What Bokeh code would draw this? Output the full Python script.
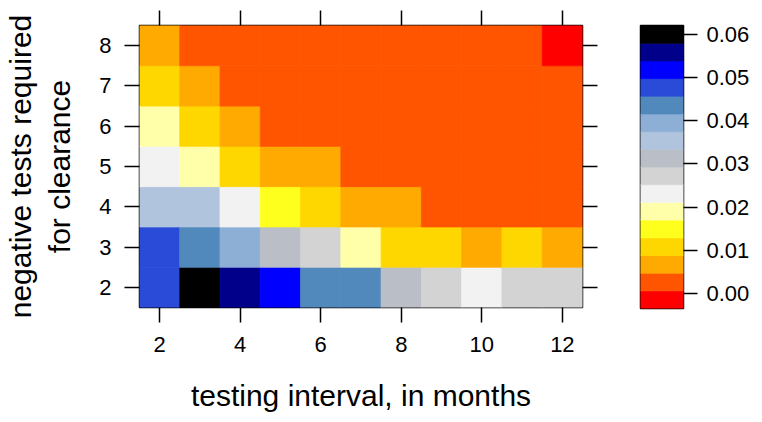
from bokeh.plotting import figure
from bokeh.layouts import row
from bokeh.models import (ColumnDataSource, LinearColorMapper, Range1d, FixedTicker,
                          LinearAxis, CustomJSTickFormatter)
from bokeh.embed import file_html
from bokeh.resources import INLINE

# ---------------- data ----------------
intervals = [2, 3, 4, 5, 6, 7, 8, 9, 10, 11, 12]          # testing interval, months
neg_tests = [2, 3, 4, 5, 6, 7, 8]                           # negative tests required

row_2 = [0.0480, 0.0585, 0.0560, 0.0520, 0.0440, 0.0430, 0.0310, 0.0280, 0.0230, 0.0270, 0.0275]
row_3 = [0.0475, 0.0440, 0.0400, 0.0315, 0.0275, 0.0190, 0.0115, 0.0105, 0.0080, 0.0100, 0.0075]
row_4 = [0.0360, 0.0355, 0.0230, 0.0150, 0.0110, 0.0075, 0.0060, 0.0040, 0.0035, 0.0030, 0.0025]
row_5 = [0.0230, 0.0190, 0.0110, 0.0070, 0.0055, 0.0040, 0.0030, 0.0025, 0.0020, 0.0015, 0.0012]
row_6 = [0.0190, 0.0110, 0.0065, 0.0040, 0.0030, 0.0022, 0.0018, 0.0014, 0.0012, 0.0010, 0.0009]
row_7 = [0.0110, 0.0065, 0.0035, 0.0025, 0.0018, 0.0014, 0.0012, 0.0010, 0.0009, 0.0009, 0.0008]
row_8 = [0.0070, 0.0040, 0.0022, 0.0016, 0.0013, 0.0011, 0.0010, 0.0009, 0.0009, 0.0008, 0.0003]
rows = [row_2, row_3, row_4, row_5, row_6, row_7, row_8]

x_ticks = [2, 4, 6, 8, 10, 12]
y_ticks = [2, 3, 4, 5, 6, 7, 8]
cbar_ticks = [0.00, 0.01, 0.02, 0.03, 0.04, 0.05, 0.06]

palette = ["#FF0000", "#FF5500", "#FFAA00", "#FFD700", "#FFFF1E", "#FFFFAA",
           "#F2F2F2", "#D3D3D3", "#BABEC6", "#B0C4DE", "#8DAFD6", "#5289BC",
           "#2A4BD7", "#0000FF", "#00008B", "#000000"]
z_low, z_high = -0.0035, 0.0621

FONT = "Liberation Sans"

# ---------------- heatmap ----------------
xs, ys, zs = [], [], []
for yv, vals in zip(neg_tests, rows):
    for xv, z in zip(intervals, vals):
        xs.append(xv); ys.append(yv); zs.append(z)
src = ColumnDataSource(dict(x=xs, y=ys, z=zs))
mapper = LinearColorMapper(palette=palette, low=z_low, high=z_high)

p = figure(output_backend="svg", toolbar_location=None,
           frame_width=443, frame_height=282,
           min_border_left=135, min_border_right=20,
           min_border_top=25, min_border_bottom=105,
           x_range=Range1d(1.5, 12.5), y_range=Range1d(1.5, 8.5),
           x_axis_location=None, y_axis_location=None)
p.rect(x="x", y="y", width=1, height=1, source=src,
       fill_color={"field": "z", "transform": mapper},
       line_color={"field": "z", "transform": mapper}, line_width=0.8)
p.grid.visible = False
p.outline_line_color = "black"
p.outline_line_width = 1.5
p.outline_line_alpha = 1.0


def style_axis(ax, labels=True):
    ax.axis_line_color = None
    ax.major_tick_line_color = "black"
    ax.major_tick_line_width = 1.5
    ax.major_tick_out = 15
    ax.major_tick_in = 0
    ax.minor_tick_line_color = None
    ax.major_label_text_font = FONT
    ax.major_label_text_font_size = "22px"
    ax.major_label_text_color = "black"
    ax.axis_label_text_font = FONT
    ax.axis_label_text_font_size = "30px"
    ax.axis_label_text_font_style = "normal"
    ax.axis_label_text_color = "black"
    if not labels:
        ax.major_label_text_font_size = "0px"
        ax.major_label_text_color = None
        ax.major_label_standoff = 0


xb = LinearAxis(ticker=FixedTicker(ticks=x_ticks), axis_label="testing interval, in months")
style_axis(xb)
xb.major_label_standoff = 14
xb.axis_label_standoff = 24
p.add_layout(xb, "below")

xt = LinearAxis(ticker=FixedTicker(ticks=x_ticks))
style_axis(xt, labels=False)
p.add_layout(xt, "above")

yl = LinearAxis(ticker=FixedTicker(ticks=y_ticks),
                axis_label="negative tests required\nfor clearance")
style_axis(yl)
yl.major_label_standoff = 13
yl.axis_label_standoff = 20
p.add_layout(yl, "left")

yr = LinearAxis(ticker=FixedTicker(ticks=y_ticks))
style_axis(yr, labels=False)
p.add_layout(yr, "right")

# ---------------- colour key ----------------
nbin = len(palette)
step = (z_high - z_low) / nbin
cb_src = ColumnDataSource(dict(
    bottom=[z_low + i * step for i in range(nbin)],
    top=[z_low + (i + 1) * step for i in range(nbin)],
    color=palette))
cb = figure(output_backend="svg", toolbar_location=None,
            frame_width=43, frame_height=283,
            min_border_left=38, min_border_right=70,
            min_border_top=25, min_border_bottom=96,
            x_range=Range1d(0, 1), y_range=Range1d(z_low, z_high),
            x_axis_location=None, y_axis_location=None)
cb.quad(left=0, right=1, bottom="bottom", top="top", fill_color="color",
        line_color="color", line_width=0.8, source=cb_src)
cb.grid.visible = False
cb.outline_line_color = "black"
cb.outline_line_width = 1.5
cb.outline_line_alpha = 1.0
cax = LinearAxis(ticker=FixedTicker(ticks=cbar_ticks),
                 formatter=CustomJSTickFormatter(code="return tick.toFixed(2);"))
style_axis(cax)
cax.major_tick_out = 14
cax.major_label_standoff = 9
cb.add_layout(cax, "right")

layout = row(p, cb)
open("out.html", "w").write(file_html(layout, INLINE))
